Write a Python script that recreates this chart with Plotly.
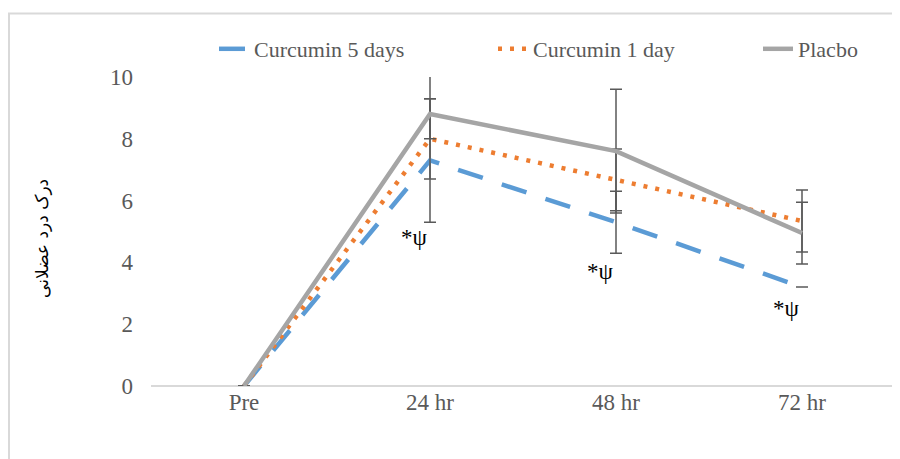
import plotly.graph_objects as go

categories = ["Pre", "24 hr", "48 hr", "72 hr"]
curc5 = [0, 7.3, 5.3, 3.2]
curc5_err = [0, 2.0, 1.0, 0]
curc1 = [0, 8.0, 6.67, 5.34]
curc1_err = [0, 1.3, 1.0, 1.0]
placebo = [0, 8.8, 7.6, 4.95]
placebo_err_plus = [0, 1.5, 2.0, 1.0]
placebo_err_minus = [0, 0.8, 2.0, 1.0]
sig_labels = ["", "*ψ", "*ψ", "*ψ"]
sig_y = [None, 4.8, 3.7, 2.5]

font = "Liberation Serif"
grey_text = "#595959"
err_color = "#595959"

# page has an 8px body margin; compensate so the plot area lands where intended
OFF = 8
L, T, PW, PH = 151 - OFF, 77 - OFF, 744, 309
W, H = 900 - OFF, 459 - OFF

fig = go.Figure()
fig.add_trace(go.Scatter(
    x=categories, y=curc5, name="Curcumin 5 days", mode="lines", legend="legend",
    line=dict(color="#5b9bd5", width=4.5, dash="26px,20px"),
    error_y=dict(type="data", array=curc5_err, color=err_color, thickness=1.5, width=6),
))
fig.add_trace(go.Scatter(
    x=categories, y=curc1, name="Curcumin 1 day", mode="lines", legend="legend2",
    line=dict(color="#ed7d31", width=4.5, dash="4px,8px"),
    error_y=dict(type="data", array=curc1_err, color=err_color, thickness=1.5, width=6),
))
fig.add_trace(go.Scatter(
    x=categories, y=placebo, name="Placbo", mode="lines", legend="legend3",
    line=dict(color="#a5a5a5", width=4.5),
    error_y=dict(type="data", array=placebo_err_plus, arrayminus=placebo_err_minus,
                 color=err_color, thickness=1.5, width=6),
))

for c, lab, yy in zip(categories, sig_labels, sig_y):
    if lab:
        fig.add_annotation(x=c, y=yy, text=lab, showarrow=False, xshift=-16,
                           font=dict(family=font, size=23, color="#000000"))

fig.add_annotation(xref="paper", yref="paper", x=(42 - 151) / PW, y=0.476,
                   text="درک درد عضلانی", textangle=-90, showarrow=False,
                   xanchor="center", yanchor="middle",
                   font=dict(family="DejaVu Sans", size=17, color="#000000"))

fig.add_shape(type="rect", xref="paper", yref="paper",
              x0=(9 - 151) / PW, x1=1.2, y0=-0.5, y1=1 + (77 - 13.5) / PH,
              line=dict(color="#d9d9d9", width=2), fillcolor="rgba(0,0,0,0)", layer="below")


def leg(text_left_px):
    return dict(orientation="h", x=(text_left_px - 40 - 151) / PW, xanchor="left",
                y=1 + (77 - 49) / PH, yanchor="middle",
                font=dict(family=font, size=22, color=grey_text),
                bgcolor="rgba(0,0,0,0)")


fig.update_layout(
    width=W, height=H,
    margin=dict(l=L, r=W - L - PW, t=T, b=H - T - PH, autoexpand=False),
    paper_bgcolor="white", plot_bgcolor="white",
    font=dict(family=font, size=23, color=grey_text),
    showlegend=True,
    legend=leg(254),
    legend2=leg(533),
    legend3=leg(798),
    xaxis=dict(type="category", range=[-0.5, 3.5], showgrid=False, zeroline=False,
               showline=False, ticks="", automargin=False,
               tickfont=dict(family=font, size=23, color=grey_text)),
    yaxis=dict(range=[0, 10], dtick=2, showgrid=False, zeroline=True, zerolinecolor="#d9d9d9",
               zerolinewidth=1.5, showline=False, ticks="", ticklabelstandoff=17, automargin=False,
               tickfont=dict(family=font, size=23, color=grey_text)),
)

fig.write_html("out.html")
